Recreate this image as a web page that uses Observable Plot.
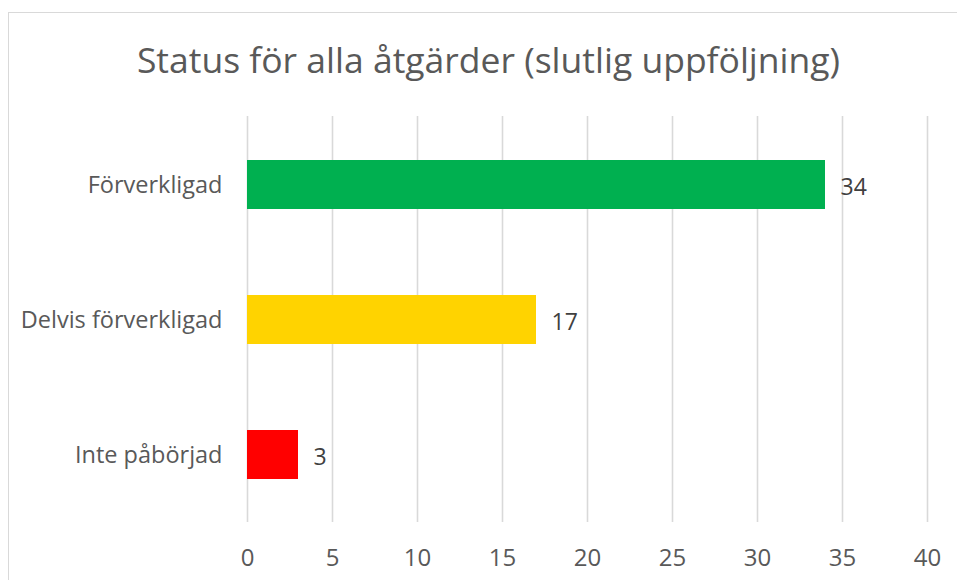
<!DOCTYPE html>
<html>
<head>
<meta charset="utf-8">
<script src="https://cdn.jsdelivr.net/npm/d3@7"></script>
<script src="https://cdn.jsdelivr.net/npm/@observablehq/plot@0.6"></script>
<style>
  body { margin: 0; background: #fff; font-family: "Open Sans", sans-serif; }
  #wrap { position: relative; width: 957px; height: 580px; overflow: hidden; background: #fff; }
  #frame { position: absolute; left: 8px; top: 12px; width: 1000px; height: 1000px; border: 1.5px solid #d9d9d9; box-sizing: border-box; }
  #title { position: absolute; left: 0; top: 39px; width: 977px; text-align: center; font-size: 35.5px; line-height: 40px; color: #595959; white-space: nowrap; }
  #chart { position: absolute; left: 0; top: 0; }
</style>
</head>
<body>
<div id="wrap">
  <div id="frame"></div>
  <div id="chart"></div>
  <div id="title">Status för alla åtgärder (slutlig uppföljning)</div>
</div>
<script>
const categories = ["Förverkligad", "Delvis förverkligad", "Inte påbörjad"];
const values = [34, 17, 3];
const colors = ["#00B050", "#FFD300", "#FF0000"];
const xTicks = [0, 5, 10, 15, 20, 25, 30, 35, 40];

const data = categories.map((c, i) => ({cat: c, value: values[i]}));

const chart = Plot.plot({
  width: 957,
  height: 580,
  marginLeft: 247,
  marginRight: 30,
  marginTop: 116,
  marginBottom: 58,
  style: { fontFamily: "Open Sans, sans-serif", background: "transparent", overflow: "visible" },
  x: { domain: [0, 40], label: null },
  y: { domain: categories, paddingInner: 0.64, paddingOuter: 0.32, label: null },
  color: { domain: categories, range: colors },
  marks: [
    Plot.gridX(xTicks, { stroke: "#d9d9d9", strokeOpacity: 1, strokeWidth: 1.6 }),
    Plot.barX(data, { x: "value", y: "cat", fill: "cat" }),
    Plot.text(data, { x: "value", y: "cat", text: d => String(d.value), dx: 15, dy: 3, textAnchor: "start", fill: "#404040", fontSize: 23 }),
    Plot.axisX(xTicks, { tickSize: 0, tickPadding: 26, fontSize: 24, color: "#595959", label: null }),
    Plot.axisY({ tickSize: 0, tickPadding: 25, fontSize: 23.5, color: "#595959", label: null })
  ]
});
document.getElementById("chart").append(chart);
</script>
</body>
</html>
